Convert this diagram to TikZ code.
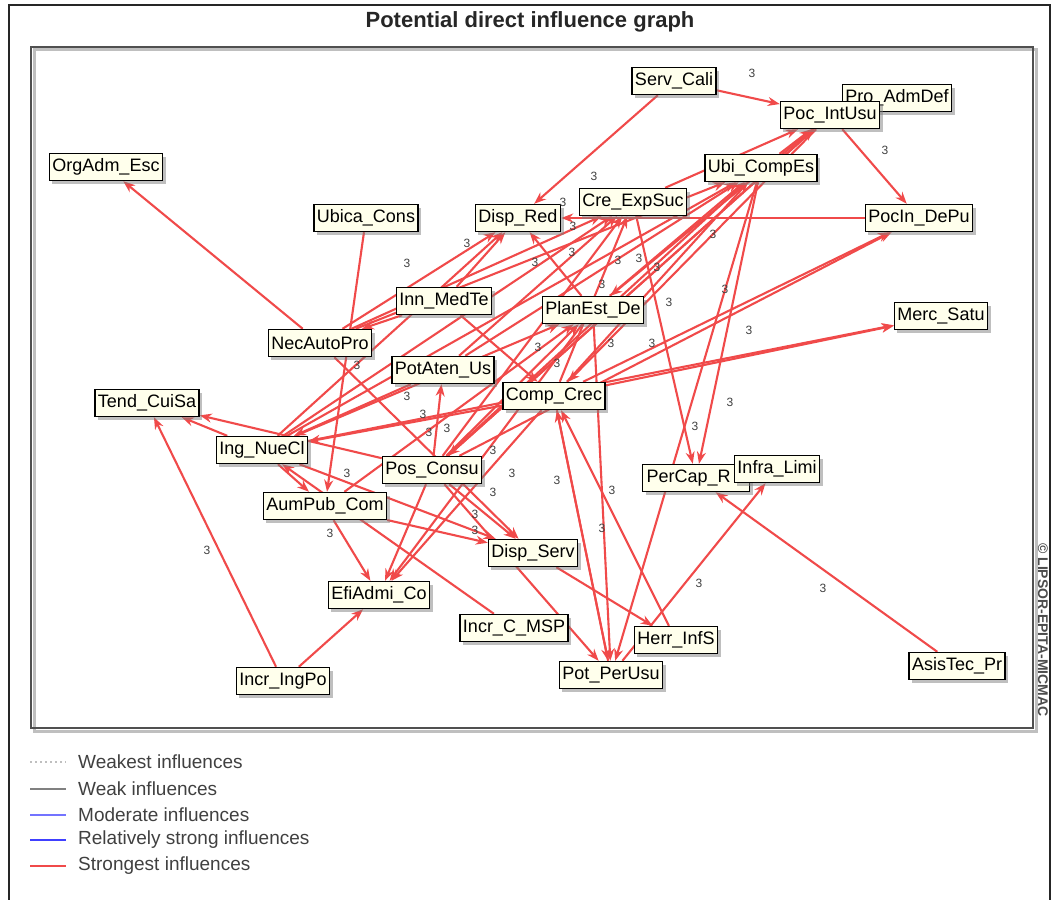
\documentclass[tikz,border=0pt]{standalone}
\usepackage{fontspec}
\setmainfont{Liberation Sans}
\usetikzlibrary{arrows.meta,shadows,backgrounds}
\definecolor{infred}{RGB}{240,74,74}
\definecolor{boxfill}{RGB}{255,255,236}
\definecolor{framegray}{RGB}{80,80,80}
\begin{document}
\begin{tikzpicture}[x=1pt,y=-1pt,
  var/.style={draw=black, line width=1.4pt, fill=boxfill,
    font=\fontsize{18}{18}\selectfont, inner xsep=3pt, inner ysep=2pt,
    minimum height=27pt,
    drop shadow={shadow xshift=3pt, shadow yshift=-3pt, fill=black!50}},
  infl/.style={draw=infred, line width=2.1pt, -{Stealth[length=12pt,width=9pt]}},
  wt/.style={font=\fontsize{12}{12}\selectfont, text=black!75, inner sep=0pt},
  legtext/.style={anchor=west, font=\fontsize{19}{19}\selectfont, text=black!75, inner sep=0pt}]

\useasboundingbox (0,0) rectangle (1054,899);

% outer and plot frames
\draw[black!85, line width=1.3pt] (9,912) -- (9,5) -- (1050,5) -- (1050,912);
\draw[black!25, line width=3pt] (34,50) rectangle (1036,731);
\draw[framegray, line width=2pt] (31,47) rectangle (1033,728);

% title
\node[font=\fontsize{22}{22}\selectfont\bfseries, text=black!85] (title) at (530,22) {Potential direct influence graph};

% variables
\node[var] (ServCali)  at (674,81)  {Serv\_Cali};
\node[var] (ProAdm)    at (897,98)  {Pro\_AdmDef};
\node[var] (PocInt)    at (830,115) {Poc\_IntUsu};
\node[var] (OrgAdm)    at (106,167) {OrgAdm\_Esc};
\node[var] (UbiComp)   at (761,168) {Ubi\_CompEs};
\node[var] (CreExp)    at (633,202) {Cre\_ExpSuc};
\node[var] (DispRed)   at (518,218) {Disp\_Red};
\node[var] (UbicaCons) at (366,218) {Ubica\_Cons};
\node[var] (PocInDe)   at (919,218) {PocIn\_DePu};
\node[var] (InnMed)    at (444,301) {Inn\_MedTe};
\node[var] (PlanEst)   at (593,310) {PlanEst\_De};
\node[var] (MercSatu)  at (941,316) {Merc\_Satu};
\node[var] (NecAuto)   at (320,343) {NecAutoPro};
\node[var] (PotAten)   at (443,370) {PotAten\_Us};
\node[var] (CompCrec)  at (554,396) {Comp\_Crec};
\node[var] (TendCui)   at (147,403) {Tend\_CuiSa};
\node[var] (IngNue)    at (262,450) {Ing\_NueCl};
\node[var] (PosCons)   at (432,470) {Pos\_Consu};
\node[var, minimum width=107pt, text width=99pt, align=left] (PerCap) at (696,478) {PerCap\_R};
\node[var] (InfraLim)  at (777,469) {Infra\_Limi};
\node[var] (AumPub)    at (325,506) {AumPub\_Com};
\node[var] (DispServ)  at (533,553) {Disp\_Serv};
\node[var] (EfiAdm)    at (379,595) {EfiAdmi\_Co};
\node[var] (IncrMSP)   at (514,628) {Incr\_C\_MSP};
\node[var] (HerrInf)   at (676,640) {Herr\_InfS};
\node[var] (PotPer)    at (611,675) {Pot\_PerUsu};
\node[var] (AsisTec)   at (957,666) {AsisTec\_Pr};
\node[var] (IncrIng)   at (283,681) {Incr\_IngPo};

% influences (strongest), drawn behind the variables
\begin{pgfonlayer}{background}
\foreach \a/\b in {
  ServCali/PocInt, ServCali/DispRed, PocInt/PocInDe, CreExp/PocInt,
  UbiComp/PocInt, NecAuto/OrgAdm, UbicaCons/AumPub, NecAuto/DispRed,
  NecAuto/CreExp, NecAuto/UbiComp, InnMed/NecAuto, InnMed/DispRed,
  InnMed/CompCrec, IngNue/DispRed, IngNue/UbiComp, IngNue/CreExp,
  IngNue/TendCui, PosCons/TendCui, IncrIng/TendCui, IngNue/AumPub,
  IngNue/DispServ, IngNue/MercSatu, CompCrec/MercSatu, PosCons/UbiComp,
  PosCons/CreExp, PosCons/PlanEst, PosCons/PocInt, PosCons/PotAten,
  PosCons/DispServ, CompCrec/PocInDe, PocInDe/DispRed, CompCrec/IngNue,
  PotAten/UbiComp, PotAten/IngNue, AumPub/EfiAdm, AumPub/DispServ,
  IncrMSP/IngNue, CompCrec/EfiAdm, PlanEst/EfiAdm, PosCons/EfiAdm,
  IncrIng/EfiAdm, UbiComp/PotPer, PlanEst/PotPer, PotPer/CompCrec,
  CompCrec/PotPer, PotPer/InfraLim, PosCons/PotPer, HerrInf/CompCrec,
  DispServ/HerrInf, CreExp/PerCap, AsisTec/PerCap, UbiComp/PerCap,
  PocInt/PosCons, PocInt/CompCrec, CompCrec/CreExp, CompCrec/UbiComp,
  PlanEst/UbiComp, NecAuto/DispServ, PosCons/PocInDe, PlanEst/DispRed,
  AumPub/PlanEst, IngNue/PlanEst, PotAten/CreExp, PocInt/PlanEst}
  \draw[infl] (\a) -- (\b);
\end{pgfonlayer}

% intensity labels
\foreach \p [count=\i] in {
  (752,73),(885,150),(594,176),(563,202),(573,226),(467,243),(407,263),
  (535,262),(572,252),(618,260),(639,258),(657,267),(602,284),(669,302),
  (713,234),(725,289),(749,330),(538,347),(557,363),(611,343),(652,343),
  (357,365),(407,396),(423,414),(429,432),(447,428),(347,473),(493,450),
  (512,473),(493,492),(557,480),(612,490),(602,528),(475,514),(475,530),
  (330,533),(207,550),(695,426),(730,402),(699,583),(823,588)}
  \node[wt] (w\i) at \p {3};

% copyright line
\node[rotate=-90, font=\fontsize{14}{14}\selectfont\bfseries, text=black!70] (copy) at (1043,630) {© LIPSOR-EPITA-MICMAC};

% legend
\coordinate (l1a) at (30,762); \coordinate (l1b) at (66,762);
\coordinate (l2a) at (30,789); \coordinate (l2b) at (66,789);
\coordinate (l3a) at (30,815); \coordinate (l3b) at (66,815);
\coordinate (l4a) at (30,840); \coordinate (l4b) at (66,840);
\coordinate (l5a) at (30,866); \coordinate (l5b) at (66,866);
\draw[black!25, line width=1.2pt, dash pattern=on 2pt off 3pt] (l1a) -- (l1b);
\draw[black!50, line width=1.5pt] (l2a) -- (l2b);
\draw[blue!55!white, line width=1.5pt] (l3a) -- (l3b);
\draw[blue!75!white, line width=2.6pt] (l4a) -- (l4b);
\draw[infred, line width=2.6pt] (l5a) -- (l5b);
\node[legtext] (t1) at (78,762) {Weakest influences};
\node[legtext] (t2) at (78,789) {Weak influences};
\node[legtext] (t3) at (78,815) {Moderate influences};
\node[legtext] (t4) at (78,840) {Relatively strong influences};
\node[legtext] (t5) at (78,866) {Strongest influences};
\end{tikzpicture}
\end{document}
